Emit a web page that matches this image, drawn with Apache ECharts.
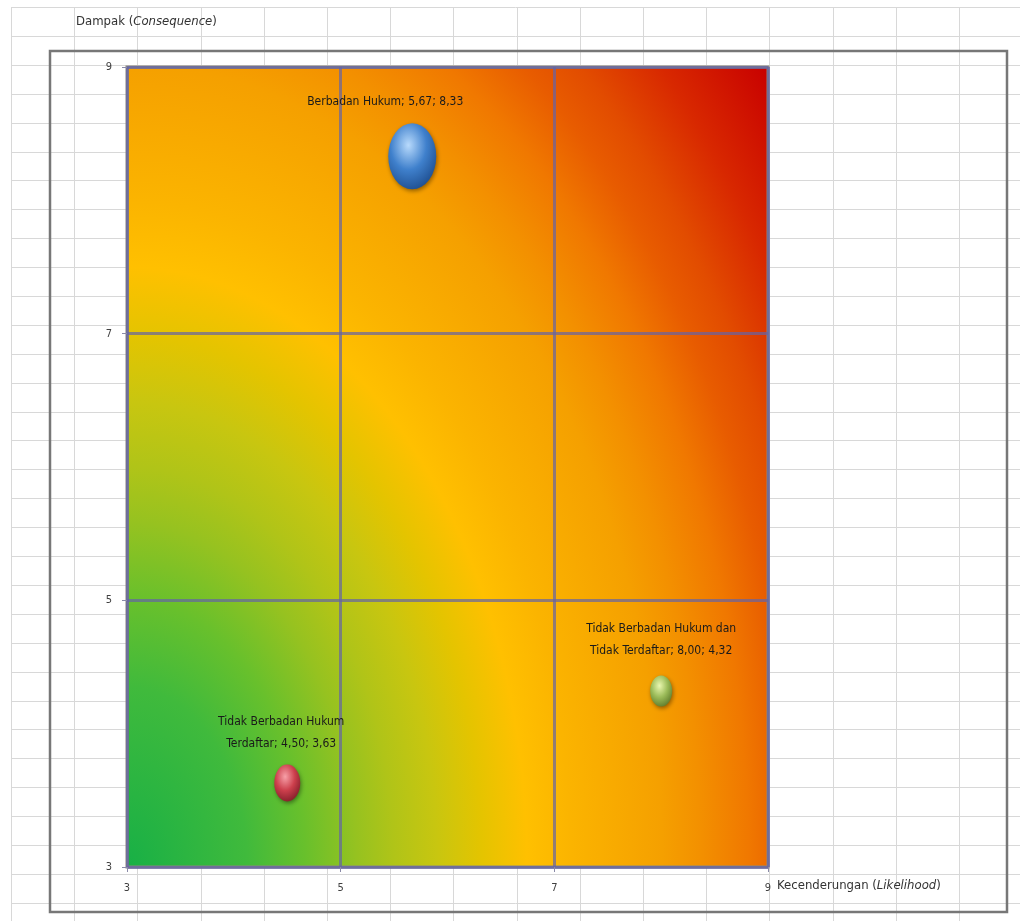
<!DOCTYPE html>
<html><head><meta charset="utf-8">
<script src="https://cdn.jsdelivr.net/npm/echarts@6/dist/echarts.min.js"></script>
<style>html,body{margin:0;padding:0;background:#fff}#c{width:1020px;height:921px}</style>
</head><body><div id="c"></div>
<script>
// ---- data ----
const categories = ['Berbadan Hukum', 'Tidak Berbadan Hukum\nTerdaftar', 'Tidak Berbadan Hukum dan\nTidak Terdaftar'];
const likelihood = [5.67, 4.50, 8.00];
const consequence = [8.33, 3.63, 4.32];
const xTicks = [3, 5, 7, 9];
const yTicks = [3, 5, 7, 9];

// ---- styles (kept separate from data) ----
const bubbleStyles = [
  { size: [48, 66], colors: ['#b8dafc', '#3f80cc', '#1a4888'], offset: [-27, 0], distance: 10 },
  { size: [26, 37], colors: ['#f7a0a8', '#cc3f4c', '#7a1a26'], offset: [-6, 0], distance: 10 },
  { size: [22, 31], colors: ['#eaf7b0', '#9bbb59', '#587426'], offset: [0, 0], distance: 14 }
];
// heat background colour stops: [distance from bottom-left in px (vertically squeezed), colour]
const heatStops = [
  [0, '#18b046'], [120, '#40ba3c'], [178, '#68c02c'], [230, '#96c220'], [267, '#b0c418'],
  [310, '#c8c610'], [355, '#e4c400'], [400, '#ffc000'], [444, '#fbb400'], [490, '#f8aa00'],
  [535, '#f5a000'], [574, '#f39000'], [622, '#f07800'], [665, '#e85c00'], [700, '#e24c00'],
  [755, '#d82800'], [834, '#c80000']
];
const FONT = '"Liberation Sans Narrow", "DejaVu Sans Condensed", "Open Sans", sans-serif';
const fmt = v => v.toFixed(2).replace('.', ',');

const chart = echarts.init(document.getElementById('c'), null, { renderer: 'canvas' });

// spreadsheet background (decoration)
const sheet = [];
for (let x = 11; x < 1020; x += 63.2) {
  const xx = Math.round(x) + 0.5;
  sheet.push({ type: 'line', z: -10, silent: true, shape: { x1: xx, y1: 7, x2: xx, y2: 921 }, style: { stroke: '#d8d8d8', lineWidth: 1 } });
}
for (let y = 7; y < 921; y += 28.9) {
  const yy = Math.round(y) + 0.5;
  sheet.push({ type: 'line', z: -10, silent: true, shape: { x1: 11, y1: yy, x2: 1020, y2: yy }, style: { stroke: '#d8d8d8', lineWidth: 1 } });
}
sheet.push({ type: 'rect', z: -9, silent: true, shape: { x: 50, y: 51, width: 957, height: 861 }, style: { fill: null, stroke: '#777777', lineWidth: 2.5 } });

const seriesData = categories.map((name, i) => {
  const st = bubbleStyles[i];
  return {
    name: name,
    value: [likelihood[i], consequence[i]],
    symbolSize: st.size,
    itemStyle: {
      opacity: 1,
      color: new echarts.graphic.RadialGradient(0.42, 0.33, 0.75, [
        { offset: 0, color: st.colors[0] },
        { offset: 0.5, color: st.colors[1] },
        { offset: 1, color: st.colors[2] }
      ]),
      shadowBlur: 4, shadowColor: 'rgba(0,0,0,0.4)', shadowOffsetX: 1, shadowOffsetY: 2
    },
    label: { offset: st.offset, distance: st.distance }
  };
});

const rich = {
  n: { fontFamily: FONT, fontSize: 13, fontWeight: 'normal', color: '#333' },
  i: { fontFamily: FONT, fontSize: 13, fontWeight: 'normal', fontStyle: 'italic', color: '#333' }
};

chart.setOption({
  animation: false,
  backgroundColor: '#ffffff',
  graphic: { elements: sheet },
  title: {
    text: '{n|Dampak (}{i|Consequence}{n|)}',
    left: 76, top: 15, padding: 0,
    textStyle: { fontWeight: 'normal', rich: rich }
  },
  grid: {
    left: 127, top: 67, right: 252, bottom: 54,
    show: true, borderColor: '#8a8580', borderWidth: 3,
    backgroundColor: 'transparent'
  },
  xAxis: {
    type: 'value', min: 3, max: 9,
    axisLine: { show: false },
    axisTick: { show: true, customValues: xTicks, length: 5, lineStyle: { color: '#8a8aa8' } },
    axisLabel: { customValues: xTicks, margin: 16, color: '#404040', fontSize: 11, fontFamily: FONT },
    splitLine: { show: true, lineStyle: { color: 'rgba(100,100,165,0.7)', width: 3 } },
    name: '{n|Kecenderungan (}{i|Likelihood}{n|)}',
    nameLocation: 'end', nameGap: 7,
    nameTextStyle: { verticalAlign: 'top', padding: [12, 0, 0, 0], rich: rich }
  },
  yAxis: {
    type: 'value', min: 3, max: 9,
    axisLine: { show: false },
    axisTick: { show: true, customValues: yTicks, length: 5, lineStyle: { color: '#8a8aa8' } },
    axisLabel: { customValues: yTicks, margin: 15, color: '#404040', fontSize: 11, fontFamily: FONT },
    splitLine: { show: true, lineStyle: { color: 'rgba(100,100,165,0.7)', width: 3 } }
  },
  series: [{
    type: 'scatter',
    data: seriesData,
    label: {
      show: true, position: 'top',
      formatter: p => p.name + '; ' + fmt(p.value[0]) + '; ' + fmt(p.value[1]),
      color: '#1a1a1a', fontSize: 12, fontFamily: FONT, lineHeight: 22
    },
    emphasis: { disabled: true }
  }]
});

// elliptical heat gradient behind the plot area, sized from the axes
const tl = chart.convertToPixel({ gridIndex: 0 }, [3, 9]);
const br = chart.convertToPixel({ gridIndex: 0 }, [9, 3]);
const w = br[0] - tl[0], h = br[1] - tl[1];
const f = 1.5;
const lh = h / f;
const R = Math.sqrt(w * w + lh * lh);
const maxD = heatStops[heatStops.length - 1][0];
sheet.push({
  type: 'rect', z: -1, silent: true,
  x: tl[0], y: tl[1], scaleY: f, originX: 0, originY: 0,
  shape: { x: 0, y: 0, width: w, height: lh },
  style: {
    fill: new echarts.graphic.RadialGradient(0, 1, R / Math.min(w, lh),
      heatStops.map(s => ({ offset: Math.min(1, s[0] / Math.max(R, maxD)), color: s[1] })))
  }
});
chart.setOption({ graphic: { elements: sheet } });
</script>
</body></html>
